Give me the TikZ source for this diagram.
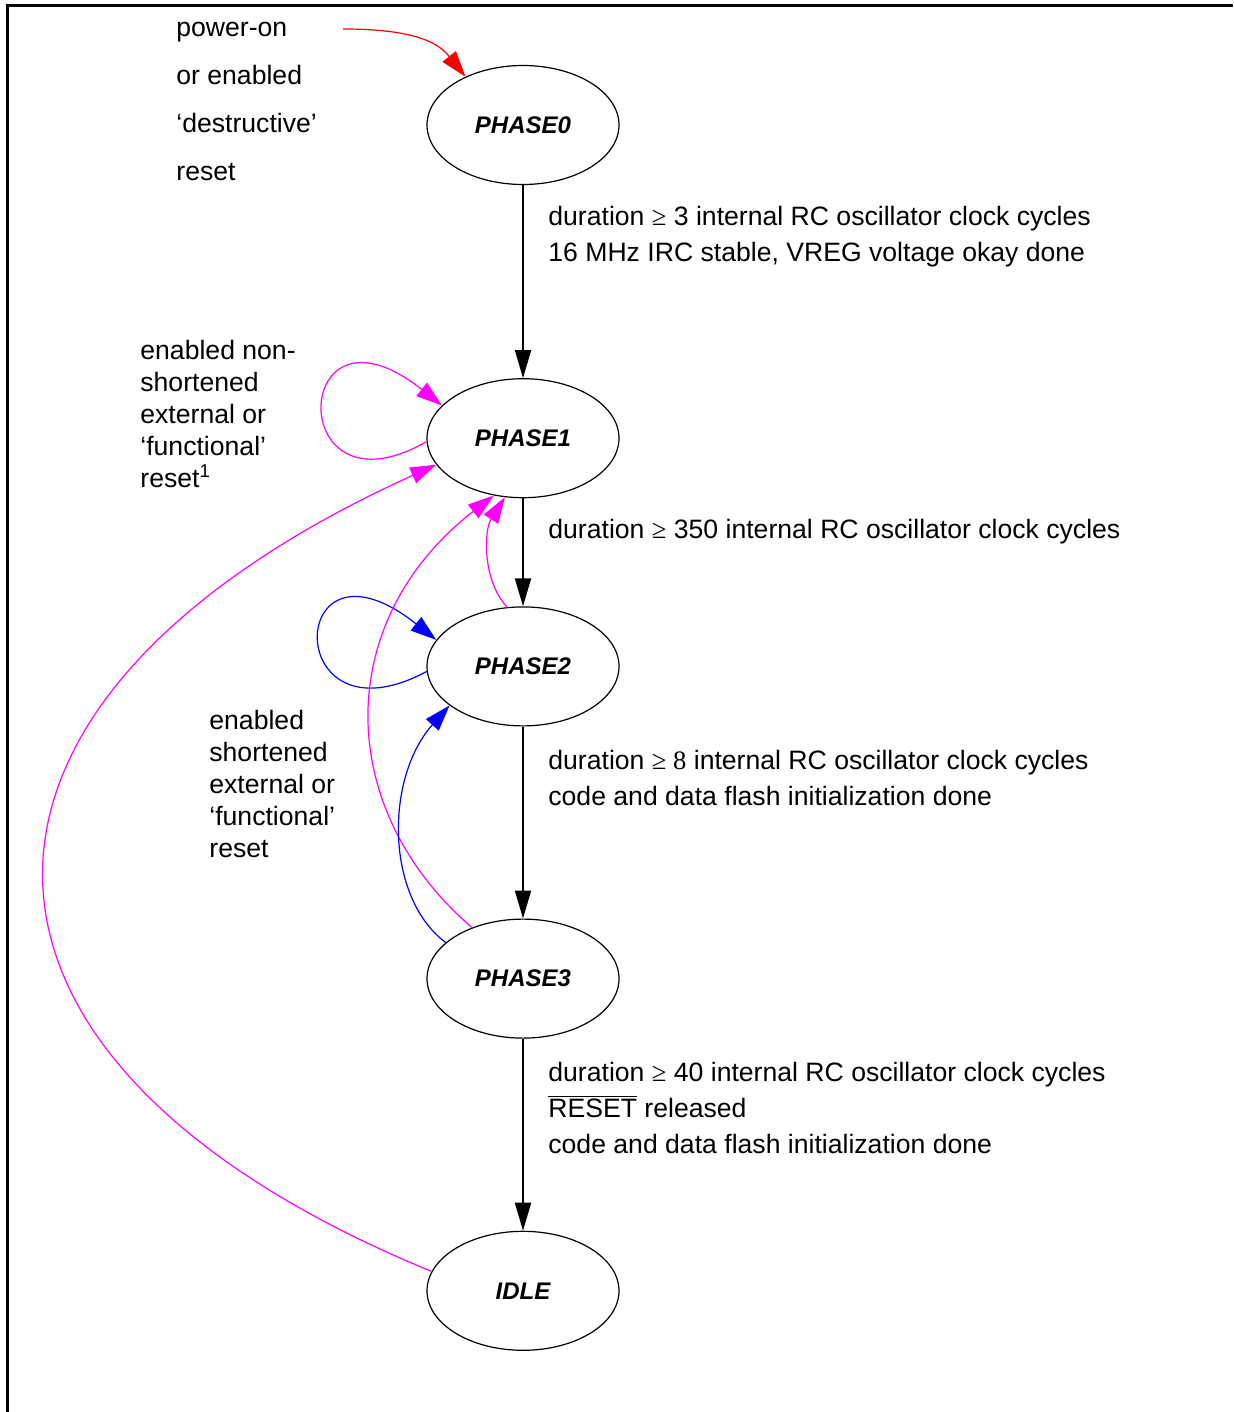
\documentclass[tikz,border=0pt]{standalone}
\usepackage{fontspec}
\setmainfont{Liberation Sans}
\newfontfamily\symfont{Liberation Serif}
\usetikzlibrary{positioning,shapes.geometric,arrows.meta}
\definecolor{rstpink}{RGB}{255,0,255}

\begin{document}
\begin{tikzpicture}[x=0.5pt,y=-0.5pt]
        \tikzset{state/.style={draw,ellipse,line width=0.6pt,minimum width=96pt,minimum height=59.5pt,
                inner sep=0pt,font=\fontsize{12}{14}\selectfont\bfseries\itshape},
            note/.style={inner sep=0pt,align=left,font=\fontsize{13.3}{18}\selectfont},
            go/.style={line width=1pt,-{Triangle[length=14pt,width=8pt]}},
            back/.style={line width=0.6pt,-{Triangle[length=13pt,width=8.5pt]}},
            node distance=96pt}
        \useasboundingbox (0,0) rectangle (1233,1412);
        \draw[line width=1.5pt] (7,1412) -- (7,6) -- (1233,6);
        % states
        \node[state] (p0) at (523,125) {PHASE0};
        \node[state,below=96.5pt of p0] (p1) {PHASE1};
        \node[state,below=54pt of p1] (p2) {PHASE2};
        \node[state,below=of p2] (p3) {PHASE3};
        \node[state,below=of p3] (idle) {IDLE};
        % forward path
        \draw[go] (p0) -- (p1);
        \draw[go] (p1) -- (p2);
        \draw[go] (p2) -- (p3);
        \draw[go] (p3) -- (idle);
        \node[note,anchor=west] (t0) at (548,237)
            {duration {\symfont≥} 3 internal RC oscillator clock cycles\\16 MHz IRC stable, VREG voltage okay done};
        \node[note,anchor=west] (t1) at (548,532)
            {duration {\symfont≥} 350 internal RC oscillator clock cycles};
        \node[note,anchor=west] (t2) at (548,778)
            {duration {\symfont≥ 8} internal RC oscillator clock cycles\\code and data flash initialization done};
        \node[note,anchor=west] (t3) at (548,1108)
            {duration {\symfont≥} 40 internal RC oscillator clock cycles\\$\overline{\hbox{RESET}}$ released\\code and data flash initialization done};
        % resets
        \node[note,anchor=west,font=\fontsize{13.3}{24}\selectfont] (por) at (176,101)
            {power-on\\or enabled\\`destructive'\\reset};
        \coordinate (porend) at (343,29);
        \draw[back,red] (porend) .. controls (420,29) and (440,45) .. (p0.140);
        \node[note,anchor=west,font=\fontsize{13.3}{16}\selectfont] (lng) at (140,414)
            {enabled non-\\shortened\\external or\\`functional'\\reset\textsuperscript{1}};
        \node[note,anchor=west,font=\fontsize{13.3}{16}\selectfont] (shrt) at (209,784)
            {enabled\\shortened\\external or\\`functional'\\reset};
        \draw[back,rstpink] (p1.182) .. controls (283,524) and (290,285) .. (p1.158);
        \draw[back,blue] (p2.183) .. controls (280,750) and (285,520) .. (p2.163);
        \draw[back,rstpink] (idle.168) .. controls (-84,1060) and (-84,700) .. (p1.197);
        \draw[back,rstpink] (p3.135) .. controls (333,808) and (333,620) .. (p1.243);
        \draw[back,rstpink] (p2.105) .. controls (482,580) and (484,530) .. (p1.253);
        \draw[back,blue] (p3.155) .. controls (385,897) and (385,778) .. (p2.208);
    \end{tikzpicture}
\end{document}
